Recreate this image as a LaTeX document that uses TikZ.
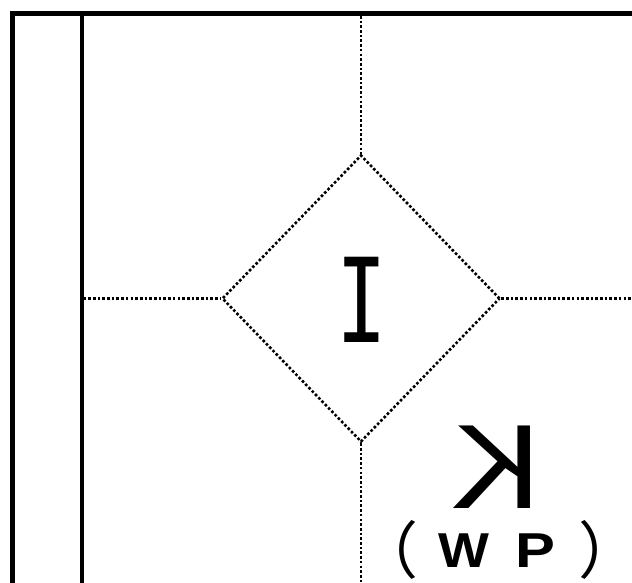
\documentclass[tikz,border=0pt]{standalone}
\usepackage{fontspec}
\usetikzlibrary{shapes.geometric}
\newfontfamily\monofnt{DejaVu Sans Mono}
\newfontfamily\sansfnt{Liberation Sans}
\newfontfamily\sansbold{Liberation Sans Bold}
\newfontfamily\cjkfnt[RawFeature=+halt]{Noto Sans CJK JP}
\tikzset{
  frame/.style={line width=5pt, line join=miter},
  divider/.style={line width=4pt},
  dotline/.style={line width=2.6pt, dash pattern=on 2.6pt off 2.1pt},
  bigtext/.style={inner sep=0pt, outer sep=0pt},
}
\begin{document}
\begin{tikzpicture}[x=1pt,y=-1pt]
\useasboundingbox (0,0) rectangle (632,583);
% frame
\coordinate (fbl) at (12,583);
\coordinate (ftl) at (12,13.5);
\coordinate (ftr) at (632,13.5);
\draw[frame] (fbl) -- (ftl) -- (ftr);
\coordinate (dtop) at (81.5,13.5);
\coordinate (dbot) at (81.5,583);
\draw[divider] (dtop) -- (dbot);
% diamond
\node[diamond, draw, dotline, minimum width=278pt, minimum height=287pt, inner sep=0pt] (dia) at (361,298.5) {};
\node[bigtext] (I) at (362,299.5) {\monofnt\fontsize{117}{117}\selectfont\scalebox{0.72}[1]{I}};
% dotted connectors
\coordinate (ctop) at (361,16);
\coordinate (cbot) at (361,583);
\coordinate (cleft) at (83.5,298.5);
\coordinate (cright) at (632,298.5);
\draw[dotline] (ctop) -- (dia.north);
\draw[dotline] (dia.south) -- (cbot);
\draw[dotline] (cleft) -- (dia.west);
\draw[dotline] (dia.east) -- (cright);
% mirrored K
\node[bigtext] (K) at (496.5,467) {\sansfnt\fontsize{120}{120}\selectfont\scalebox{-1.12}[1]{K}};
% (WP)
\node[bigtext] (lp) at (403,550) {\cjkfnt\fontsize{62}{62}\selectfont （};
\node[bigtext] (W) at (463.5,550.5) {\sansbold\fontsize{49}{49}\selectfont\scalebox{1.1}[1]{W}};
\node[bigtext] (P) at (535.5,550.5) {\sansbold\fontsize{49}{49}\selectfont\scalebox{1.22}[1]{P}};
\node[bigtext] (rp) at (593.5,550) {\cjkfnt\fontsize{62}{62}\selectfont ）};
\end{tikzpicture}
\end{document}
